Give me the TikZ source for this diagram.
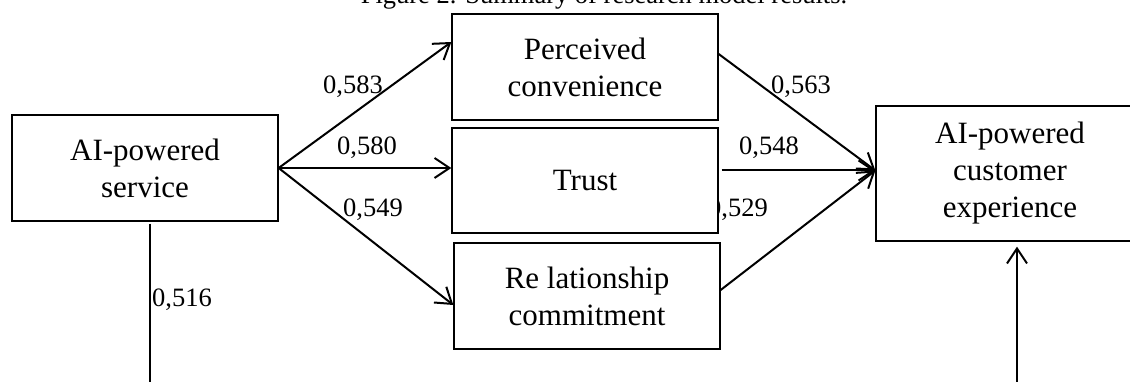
\documentclass[tikz,border=0pt]{standalone}
\usepackage{fontspec}
\setmainfont{Liberation Serif}
\usetikzlibrary{arrows.meta}
\tikzset{
  varbox/.style={draw,line width=1.3pt,fill=white,minimum width=266pt,
    minimum height=106pt,align=center,inner sep=2pt,
    font=\fontsize{31}{37}\selectfont},
  coef/.style={font=\fontsize{26.5}{30}\selectfont,inner sep=0pt},
  path/.style={line width=2pt,-{Straight Barb[length=15pt,width=20pt,line width=2pt]}}
}
\begin{document}
\begin{tikzpicture}[x=1pt,y=-1pt]
  \useasboundingbox (0,0) rectangle (1130,382);
  \node[coef,anchor=base] (title) at (604,4) {Figure 2. Summary of research model results.};
  \node[coef] (c529) at (738,210) {0,529};   % partly hidden by the Trust box
  \node[varbox] (serv) at (145,168) {AI-powered\\service};
  \node[varbox] (conv) at (585,67) {Perceived\\convenience};
  \node[varbox,minimum height=105pt] (trust) at (585,180.5) {Trust};
  \node[varbox] (commit) at (587,296) {Re lationship\\commitment};
  \node[varbox,minimum width=268pt,minimum height=135pt] (cx) at (1010,173.5)
    {AI-powered\\customer\\experience};
  \coordinate (hit) at ([yshift=3pt]cx.west);
  \coordinate (sbot) at (150,392);
  \coordinate (cbot) at (1017,392);
  % service -> mediators
  \draw[path] (serv.east) -- ([yshift=25pt]conv.west);
  \draw[path] (serv.east) -- (trust.west |- serv.east);
  \draw[path] (serv.east) -- ([yshift=-9pt]commit.west);
  % mediators -> experience
  \draw[path] ([yshift=13pt]conv.east) -- (hit);
  \draw[path] ([xshift=3pt]trust.east |- hit) -- (hit);
  \draw[path] ([yshift=6pt]commit.east) -- (hit);
  % direct effect
  \draw[line width=1.3pt] ([xshift=5pt,yshift=-2pt]serv.south) -- (sbot);
  \draw[path] (cbot) -- ([xshift=7pt,yshift=-5pt]cx.south);
  \node[coef] (c583) at (353,87) {0,583};
  \node[coef] (c580) at (367,148) {0,580};
  \node[coef] (c549) at (373,210) {0,549};
  \node[coef] (c563) at (801,87) {0,563};
  \node[coef] (c548) at (769,148) {0,548};
  \node[coef] (c516) at (182,300) {0,516};
\end{tikzpicture}
\end{document}
